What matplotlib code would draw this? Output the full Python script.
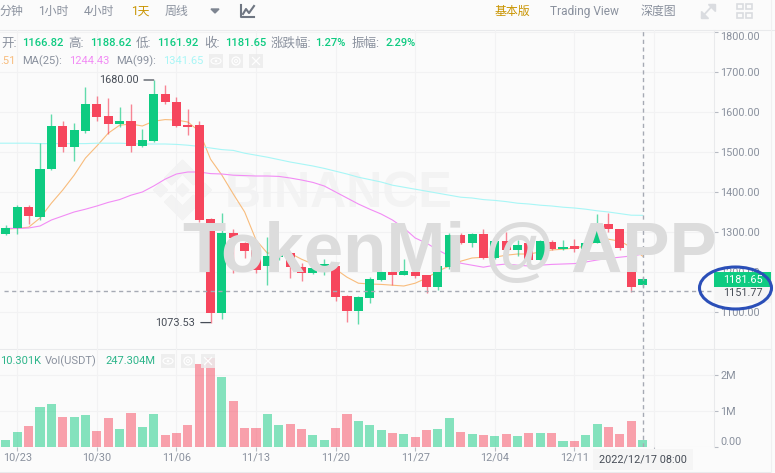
import matplotlib
matplotlib.use("Agg")
import matplotlib.pyplot as plt
from matplotlib.patches import Ellipse, Polygon, Rectangle, Circle

plt.rcParams["font.family"] = ["Roboto", "Noto Sans CJK SC", "DejaVu Sans"]

W, H = 775, 473
BG = "#FBFBFB"
UP = "#0ECB81"
DOWN = "#F6465D"
GREY = "#8A919E"
GRID = "#F2F2F3"
LINE = "#E9EAEC"
CROSS = "#A6AAB4"
NUM = 7.8   # size of the axis numbers

# ── data ─────────────────────────────────────────────────────────────────────
opens = [1296, 1310, 1362, 1338, 1457, 1566, 1512, 1552, 1620, 1590, 1570, 1577, 1515, 1528, 1645,
         1626, 1568, 1567, 1332, 1098, 1297, 1272, 1255, 1216, 1237, 1247, 1213, 1197, 1213, 1215,
         1140, 1102, 1135, 1179, 1201, 1193, 1201, 1192, 1162, 1212, 1292, 1273, 1294, 1236, 1278,
         1255, 1272, 1230, 1276, 1257, 1264, 1258, 1273, 1319, 1307, 1265, 1166.82]
highs = [1317, 1367, 1367, 1523, 1595, 1578, 1573, 1662, 1640, 1635, 1612, 1620, 1557, 1680, 1667,
         1637, 1608, 1578, 1335, 1347, 1307, 1275, 1262, 1288, 1253, 1250, 1223, 1212, 1232, 1223,
         1142, 1140, 1187, 1203, 1205, 1232, 1211, 1193, 1225, 1297, 1298, 1298, 1307, 1285, 1300,
         1280, 1276, 1281, 1280, 1280, 1282, 1276, 1345, 1348, 1308, 1276, 1188.62]
lows = [1292, 1295, 1320, 1331, 1455, 1500, 1478, 1547, 1577, 1545, 1562, 1500, 1512, 1526, 1620,
        1562, 1543, 1325, 1073.53, 1082, 1198, 1236, 1198, 1167, 1230, 1185, 1177, 1195, 1192, 1128,
        1076, 1070, 1123, 1177, 1167, 1192, 1185, 1147, 1155, 1207, 1270, 1262, 1232, 1233, 1253,
        1240, 1226, 1229, 1255, 1254, 1251, 1238, 1272, 1300, 1255, 1151, 1161.92]
closes = [1311, 1362, 1340, 1458, 1566, 1512, 1554, 1620, 1588, 1570, 1577, 1516, 1530, 1645, 1625,
          1566, 1563, 1330, 1098, 1297, 1285, 1253, 1205, 1240, 1250, 1212, 1197, 1210, 1219, 1137,
          1102, 1137, 1182, 1201, 1193, 1202, 1189, 1163, 1215, 1292, 1273, 1294, 1234, 1278, 1255,
          1268, 1230, 1278, 1257, 1263, 1257, 1273, 1319, 1307, 1259, 1162, 1181.65]
volumes = [0.20, 0.42, 0.60, 1.11, 1.21, 0.85, 0.84, 0.90, 0.46, 0.80, 0.51, 0.96, 0.55, 0.92, 0.33,
           0.41, 0.63, 2.31, 2.47, 1.95, 1.29, 0.53, 0.53, 0.92, 0.61, 0.66, 0.52, 0.35, 0.20, 0.53,
           0.92, 0.73, 0.62, 0.48, 0.39, 0.37, 0.28, 0.47, 0.51, 0.81, 0.43, 0.37, 0.34, 0.31, 0.38,
           0.30, 0.39, 0.39, 0.39, 0.17, 0.18, 0.35, 0.64, 0.55, 0.38, 0.73, 0.20]
ma7 = [1307, 1309, 1312, 1335, 1372, 1405, 1442, 1485, 1515, 1547, 1567, 1570, 1565, 1577, 1581,
       1580, 1575, 1552, 1482, 1442, 1395, 1350, 1280, 1247, 1250, 1247, 1232, 1220, 1215, 1207,
       1187, 1172, 1170, 1169, 1167, 1165, 1172, 1185, 1202, 1215, 1227, 1235, 1237, 1237, 1242,
       1245, 1245, 1250, 1255, 1257, 1260, 1265, 1277, 1282, 1277, 1262, 1239.51]
ma25 = [1309, 1309, 1310, 1315, 1330, 1340, 1350, 1357, 1365, 1374, 1381, 1392, 1400, 1415, 1432,
        1445, 1450, 1450, 1446, 1445, 1442, 1441, 1440, 1440, 1439, 1435, 1430, 1424, 1415, 1400,
        1385, 1370, 1357, 1345, 1330, 1310, 1285, 1272, 1255, 1240, 1222, 1217, 1212, 1217, 1220,
        1217, 1215, 1217, 1219, 1220, 1221, 1225, 1230, 1234, 1237, 1240, 1244.43]
# MA99 also has a value for the day before the first candle, it runs in from the left edge
ma99 = [1522, 1522, 1522, 1522, 1521, 1521, 1521, 1521, 1521, 1522, 1522, 1522, 1521, 1520, 1520, 1520,
        1519, 1517, 1514, 1510, 1506, 1504, 1497, 1492, 1487, 1481, 1475, 1470, 1465, 1459, 1452,
        1445, 1437, 1431, 1425, 1417, 1412, 1407, 1402, 1397, 1392, 1387, 1385, 1381, 1379, 1376,
        1372, 1370, 1367, 1365, 1362, 1360, 1357, 1353, 1350, 1346, 1342, 1341.65]

date_ticks = [1, 8, 15, 22, 29, 36, 43, 50, 57]
date_labels = ["10/23", "10/30", "11/06", "11/13", "11/20", "11/27", "12/04", "12/11", ""]
price_ticks = [1100, 1200, 1300, 1400, 1500, 1600, 1700, 1800]
vol_ticks = [0, 1, 2]
vol_labels = ["0.00", "1M", "2M"]
nav_items = [("分钟", 0), ("1小时", 38), ("4小时", 84), ("周线", 165)]

idx = list(range(len(closes)))
colors = [UP if c >= o else DOWN for o, c in zip(opens, closes)]


def rect(x0, y0, x1, y1):
    # pixel box (y down) to figure fractions
    return [x0 / W, 1 - y1 / H, (x1 - x0) / W, (y1 - y0) / H]


fig = plt.figure(figsize=(W / 100, H / 100), dpi=100, facecolor=BG)

# layer behind the candles and layer above them, both in pixel coordinates
back = fig.add_axes([0, 0, 1, 1], zorder=0)
front = fig.add_axes([0, 0, 1, 1], zorder=5)
for a in (back, front):
    a.set_xlim(0, W)
    a.set_ylim(H, 0)
    a.axis("off")

ax = fig.add_axes(rect(0, 30, 714, 349), zorder=2)
vax = fig.add_axes(rect(0, 349, 714, 447.3), zorder=2)
XLIM = (-0.519, 62.28)

# ── candles ──────────────────────────────────────────────────────────────────
ax.plot(idx, ma7, color="#F8BC7C", lw=0.8, zorder=2)
ax.plot(idx, ma25, color="#F28CF5", lw=0.8, zorder=2)
ax.plot([-1] + idx, ma99, color="#A8F6F6", lw=0.8, zorder=2)
ax.vlines(idx, lows, highs, colors=colors, lw=1, alpha=0.65, zorder=3)
ax.bar(idx, [abs(c - o) for o, c in zip(opens, closes)],
       bottom=[min(o, c) for o, c in zip(opens, closes)],
       width=0.8, color=colors, edgecolor="none", zorder=4)

ax.annotate("1680.00", xy=(13, 1680), xytext=(-11, 0), textcoords="offset points",
            ha="right", va="center", fontsize=NUM, color="#474D57",
            arrowprops=dict(arrowstyle="-", color="#474D57", lw=0.9, shrinkA=2, shrinkB=0))
ax.annotate("1073.53", xy=(18, 1073.53), xytext=(-11, 0), textcoords="offset points",
            ha="right", va="center", fontsize=NUM, color="#474D57",
            arrowprops=dict(arrowstyle="-", color="#474D57", lw=0.9, shrinkA=2, shrinkB=0))

ax.set_xlim(*XLIM)
ax.set_ylim(1007.5, 1805)
ax.set_xticks(date_ticks)
ax.tick_params(axis="x", length=0, labelbottom=False)
ax.set_yticks(price_ticks)
ax.set_yticklabels([f"{p:.2f}" for p in price_ticks])

# ── volume ───────────────────────────────────────────────────────────────────
vax.bar(idx, volumes, width=0.8, color=colors, alpha=0.5, edgecolor="none", zorder=3)
vax.set_xlim(*XLIM)
vax.set_ylim(0, 2.73)
vax.set_xticks(date_ticks)
vax.set_xticklabels(date_labels)
vax.set_yticks(vol_ticks)
vax.set_yticklabels(vol_labels)
vax.tick_params(axis="x", length=3, width=0.8, color="#B7BBC3", labelcolor=GREY, labelsize=NUM, pad=1)

for a in (ax, vax):
    a.patch.set_visible(False)
    a.yaxis.tick_right()
    a.tick_params(axis="y", length=3, width=0.8, color="#B7BBC3", labelcolor=GREY, labelsize=NUM, pad=1.5)
    a.grid(True, color=GRID, lw=0.8, zorder=0)
    a.set_axisbelow(True)
    for side in ("top", "left", "bottom"):
        a.spines[side].set_visible(False)
    a.spines["right"].set_color(LINE)
    a.spines["right"].set_linewidth(0.8)
    a.axvline(56, color=CROSS, lw=1, dashes=(3, 2.5), zorder=6)
ax.axhline(1151.77, xmin=0.005, color=CROSS, lw=1, dashes=(3, 2.5), zorder=6)

# the end labels sit inside the panel, not centred on their tick
ax.yaxis.get_major_ticks()[-1].label2.set_va("top")
vax.yaxis.get_major_ticks()[0].label2.set_va("bottom")

# ── frame lines ──────────────────────────────────────────────────────────────
back.plot([0, W], [30, 30], color=LINE, lw=0.8)
back.plot([0, 771], [349, 349], color=LINE, lw=0.8)
back.plot([0, 771], [472, 472], color=LINE, lw=0.8)
back.plot([771, 771], [0, 473], color="#F0F0F1", lw=0.8)

# ── watermarks ───────────────────────────────────────────────────────────────
wm = "#F3F3F3"
cx, cy = 182.5, 190
back.add_patch(Polygon([(cx, cy - 6.5), (cx + 6.5, cy), (cx, cy + 6.5), (cx - 6.5, cy)], color=wm))
back.add_patch(Polygon([(cx - 29, cy), (cx - 22, cy - 7), (cx - 15, cy), (cx - 22, cy + 7)], color=wm))
back.add_patch(Polygon([(cx + 29, cy), (cx + 22, cy - 7), (cx + 15, cy), (cx + 22, cy + 7)], color=wm))
back.add_patch(Polygon([(cx, cy - 30), (cx + 18, cy - 12), (cx + 11, cy - 5), (cx, cy - 16),
                        (cx - 11, cy - 5), (cx - 18, cy - 12)], color=wm))
back.add_patch(Polygon([(cx, cy + 30), (cx + 18, cy + 12), (cx + 11, cy + 5), (cx, cy + 16),
                        (cx - 11, cy + 5), (cx - 18, cy + 12)], color=wm))
back.text(225, 207, "BINANCE", fontsize=36, fontweight="bold", color=wm,
          family="Liberation Sans", ha="left", va="baseline")
front.text(183, 272, "TokenMi @ APP", fontsize=51, fontweight="bold", color="#DCDCDC",
           family="Liberation Sans", ha="left", va="baseline")

# ── price tags ───────────────────────────────────────────────────────────────
front.add_patch(Rectangle((714, 271.5), 57, 15.5, color=UP, lw=0))
front.text(742.5, 280, "1181.65", color="white", fontsize=NUM, ha="center", va="center")
front.add_patch(Rectangle((714, 287), 57, 15.5, color="#F5F5F5", lw=0))
front.text(742.5, 292.5, "1151.77", color="#474D57", fontsize=NUM, ha="center", va="center")
front.add_patch(Rectangle((593, 449), 100, 21, color="#F5F5F5", lw=0))
front.text(643, 459.5, "2022/12/17 08:00", color="#474D57", fontsize=NUM, ha="center", va="center")
front.add_patch(Ellipse((735.5, 288), 72, 42, fill=False, edgecolor="#2B4FB8", lw=2.2))

# ── toolbar ──────────────────────────────────────────────────────────────────
for label, x in nav_items:
    front.text(x, 11, label, color=GREY, fontsize=8.6, ha="left", va="center")
front.text(131, 11, "1天", color="#C99400", fontsize=8.6, ha="left", va="center")
front.add_patch(Polygon([(211, 9), (219, 9), (215, 13)], color="#7E8591"))
front.plot([241, 241, 254], [5, 17, 17], color="#6F7682", lw=1.5)
front.plot([243, 246, 249, 254], [14, 9, 13, 6], color="#6F7682", lw=1.5)
front.text(495, 11, "基本版", color="#C99400", fontsize=8.6, ha="left", va="center")
front.text(550, 11, "Trading View", color=GREY, fontsize=8.6, ha="left", va="center")
front.text(641, 11, "深度图", color=GREY, fontsize=8.6, ha="left", va="center")
ic = "#DADCE0"
front.plot([702, 713], [17, 5], color=ic, lw=1.3)
front.add_patch(Polygon([(708, 4), (715, 4), (715, 11)], color=ic))
front.add_patch(Polygon([(701, 11), (701, 18), (708, 18)], color=ic))
for gx in (737, 746):
    for gy in (4, 13):
        front.add_patch(Rectangle((gx, gy), 6, 5, fill=False, edgecolor=ic, lw=1.2))

# ── legends ──────────────────────────────────────────────────────────────────
row1 = [("开:", 1, GREY), ("1166.82", 22, UP), ("高:", 68, GREY), ("1188.62", 90, UP),
        ("低:", 136, GREY), ("1161.92", 157, UP), ("收:", 204, GREY), ("1181.65", 225, UP),
        ("涨跌幅:", 271, GREY), ("1.27%", 315, UP), ("振幅:", 352, GREY), ("2.29%", 385, UP)]
for label, x, c in row1:
    if c == UP:
        front.text(x, 43, label, color=c, fontsize=8, fontweight="medium", ha="left", va="center")
    else:
        front.text(x, 43, label, color=c, fontsize=9, ha="left", va="center")
row2 = [(".51", 0, "#F8BC7C"), ("MA(25):", 22, GREY), ("1244.43", 69, "#F28CF5"),
        ("MA(99):", 116, GREY), ("1341.65", 163, "#A8F6F6")]
for label, x, c in row2:
    front.text(x, 61, label, color=c, fontsize=8, ha="left", va="center")
row3 = [("10.301K", 0, "#2DB58A"), ("Vol(USDT)", 45, GREY), ("247.304M", 105, "#2DB58A")]
for label, x, c in row3:
    front.text(x, 361, label, color=c, fontsize=8, ha="left", va="center")

for y0, xs in ((54, (209, 229, 249)), (354, (161, 181, 201))):
    for n, x0 in enumerate(xs):
        front.add_patch(Rectangle((x0, y0), 14, 14, color="#ECECEC", alpha=0.85, lw=0))
        mx, my = x0 + 7, y0 + 7
        if n == 0:
            front.add_patch(Ellipse((mx, my), 10, 6, fill=False, edgecolor="white", lw=0.8))
            front.add_patch(Circle((mx, my), 1.3, color="white", lw=0))
        elif n == 1:
            front.add_patch(Circle((mx, my), 4, fill=False, edgecolor="white", lw=0.9))
            front.add_patch(Circle((mx, my), 1.5, fill=False, edgecolor="white", lw=0.7))
        else:
            front.plot([mx - 3.5, mx + 3.5], [my - 3.5, my + 3.5], color="white", lw=0.9)
            front.plot([mx - 3.5, mx + 3.5], [my + 3.5, my - 3.5], color="white", lw=0.9)

fig.savefig("out.png", dpi=100, facecolor=BG)
